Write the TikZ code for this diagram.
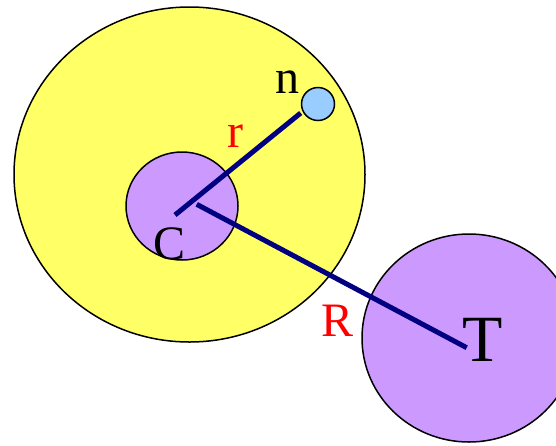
\documentclass[tikz,border=0pt]{standalone}
\usepackage{fontspec}
\setmainfont{Liberation Serif}
\usetikzlibrary{shapes.geometric}
\definecolor{yel}{HTML}{FFFF66}
\definecolor{purp}{HTML}{CC99FF}
\definecolor{lblue}{HTML}{99CCFF}
\definecolor{navyc}{HTML}{000080}
\tikzset{
  disc/.style={ellipse, draw=black, line width=1.5pt, inner sep=0pt},
  link/.style={draw=navyc, line width=5pt},
  lbl/.style={inner sep=0pt, font=\fontsize{48}{48}\selectfont},
  redlbl/.style={lbl, text=red}
}
\begin{document}
\begin{tikzpicture}[x=1pt,y=-1pt]
\useasboundingbox (0,0) rectangle (556,445);
\clip (0,0) rectangle (556,445);
\node[disc, fill=yel, minimum width=351pt, minimum height=335pt] (Y) at (189.5,174.5) {};
\node[disc, fill=purp, minimum width=112pt, minimum height=108pt] (Cc) at (182,206) {};
\node[disc, fill=lblue, minimum width=33pt, minimum height=33pt] (N) at (318,104) {};
\node[disc, fill=purp, minimum width=214pt, minimum height=208pt] (Tc) at (469,338) {};
\coordinate (rA) at (175,215);
\coordinate (rB) at (300.7,113);
\coordinate (RA) at (196.7,204.3);
\coordinate (RB) at (466.7,347.7);
\draw[link] (rA) -- (rB);
\draw[link] (RA) -- (RB);
\node[lbl] (nl) at (287.5,82.5) {n};
\node[lbl] (cl) at (170,244) {C};
\node[lbl, font=\fontsize{66}{66}\selectfont] (tl) at (482.5,340) {T};
\node[redlbl] (rl) at (235,136.5) {r};
\node[redlbl] (Rl) at (338,320.5) {R};
\end{tikzpicture}
\end{document}
